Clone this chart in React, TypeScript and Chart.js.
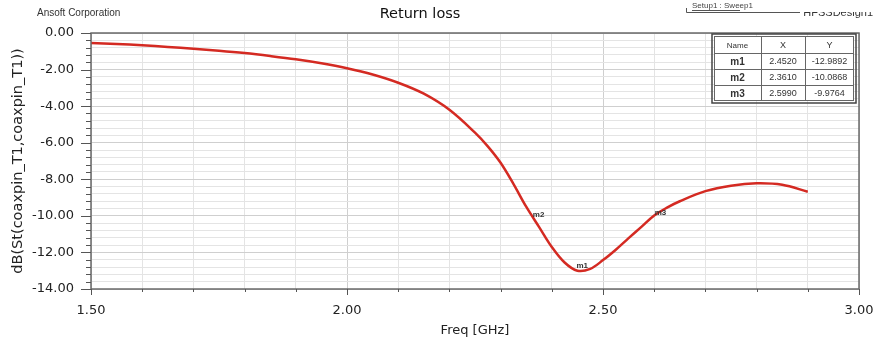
import React, { useEffect, useRef } from "react";
import { Chart, registerables } from "chart.js";

Chart.register(...registerables);

const freqGHz = [1.5, 1.55, 1.6, 1.65, 1.7, 1.75, 1.8, 1.85, 1.9, 1.95, 2.0, 2.05, 2.1, 2.15, 2.2, 2.25, 2.275, 2.3, 2.325, 2.35, 2.375, 2.4, 2.425, 2.45, 2.475, 2.5, 2.525, 2.55, 2.575, 2.6, 2.625, 2.65, 2.7, 2.75, 2.8, 2.85, 2.9];
const returnLossDb = [-0.55, -0.6, -0.67, -0.76, -0.86, -0.97, -1.1, -1.26, -1.44, -1.66, -1.93, -2.27, -2.72, -3.32, -4.2, -5.45, -6.2, -7.1, -8.25, -9.5, -10.6, -11.7, -12.55, -13.0, -12.9, -12.42, -11.85, -11.22, -10.6, -9.98, -9.55, -9.2, -8.65, -8.35, -8.22, -8.3, -8.68];

const markerNames = ["m1", "m2", "m3"];
const markerX = [2.452, 2.361, 2.599];
const markerY = [-12.9892, -10.0868, -9.9764];
const markerXText = ["2.4520", "2.3610", "2.5990"];
const markerYText = ["-12.9892", "-10.0868", "-9.9764"];

const xMin = 1.5, xMax = 3.0, xStep = 0.1;
const yMin = -14, yMax = 0, yStep = 0.4;

const FONT = "Arial, 'Liberation Sans', sans-serif";
const WIDE = "'DejaVu Sans', Arial, sans-serif";

const isMult = (v: number, m: number) => Math.abs(v / m - Math.round(v / m)) < 1e-6;

const decorPlugin = {
  id: "decor",
  afterDraw(chart: any) {
    const ctx = chart.ctx as CanvasRenderingContext2D;
    const xs = chart.scales.x;
    const ys = chart.scales.y;
    const area = chart.chartArea;
    ctx.save();
    // plot border
    ctx.strokeStyle = "#6a6a6a";
    ctx.lineWidth = 1.5;
    ctx.strokeRect(area.left, area.top, area.right - area.left, area.bottom - area.top);
    // tick marks
    ctx.strokeStyle = "#555";
    ctx.lineWidth = 1;
    xs.ticks.forEach((t: any) => {
      const px = Math.round(xs.getPixelForValue(t.value)) + 0.5;
      const len = isMult(t.value, 0.5) ? 6 : 3;
      ctx.beginPath();
      ctx.moveTo(px, area.bottom);
      ctx.lineTo(px, area.bottom + len);
      ctx.stroke();
    });
    ys.ticks.forEach((t: any) => {
      const py = Math.round(ys.getPixelForValue(t.value)) + 0.5;
      const len = isMult(t.value, 2) ? 10 : 5;
      ctx.beginPath();
      ctx.moveTo(area.left - len, py);
      ctx.lineTo(area.left, py);
      ctx.stroke();
    });
    // markers
    ctx.fillStyle = "#333";
    ctx.font = `bold 8px ${FONT}`;
    ctx.textBaseline = "middle";
    ctx.textAlign = "left";
    markerNames.forEach((n, i) => {
      const px = xs.getPixelForValue(markerX[i]);
      const py = ys.getPixelForValue(markerY[i]);
      if (i === 0) ctx.fillText(n, px - 2, py - 5);
      else ctx.fillText(n, px + 1, py - 3);
    });
    // title texts
    ctx.fillStyle = "#111";
    ctx.font = `14.5px ${WIDE}`;
    ctx.textAlign = "center";
    ctx.fillText("Return loss", 420, 14);
    ctx.font = `10px ${FONT}`;
    ctx.textAlign = "left";
    ctx.fillStyle = "#333";
    ctx.fillText("Ansoft Corporation", 37, 13);
    // setup legend
    ctx.font = `8px ${FONT}`;
    ctx.fillStyle = "#444";
    ctx.fillText("Setup1 : Sweep1", 692, 6);
    ctx.strokeStyle = "#555";
    ctx.beginPath();
    ctx.moveTo(692, 10.5);
    ctx.lineTo(740, 10.5);
    ctx.stroke();
    ctx.beginPath();
    ctx.moveTo(686.5, 8);
    ctx.lineTo(686.5, 12.5);
    ctx.lineTo(800, 12.5);
    ctx.stroke();
    // clipped design name
    ctx.save();
    ctx.beginPath();
    ctx.rect(795, 12, 85, 10);
    ctx.clip();
    ctx.font = `11px ${FONT}`;
    ctx.fillStyle = "#333";
    ctx.textAlign = "right";
    ctx.fillText("HFSSDesign1", 873, 13);
    ctx.restore();
    // marker table
    const tx0 = 714, tx1 = 761, tx2 = 805, tx3 = 854;
    const rowsY = [36, 53, 69, 85, 101];
    ctx.fillStyle = "#fff";
    ctx.fillRect(tx0, rowsY[0], tx3 - tx0, rowsY[4] - rowsY[0]);
    ctx.strokeStyle = "#444";
    ctx.lineWidth = 1.5;
    ctx.strokeRect(tx0 - 2, rowsY[0] - 2, tx3 - tx0 + 4, rowsY[4] - rowsY[0] + 4);
    ctx.lineWidth = 1;
    ctx.strokeStyle = "#666";
    ctx.strokeRect(tx0 + 0.5, rowsY[0] + 0.5, tx3 - tx0 - 1, rowsY[4] - rowsY[0] - 1);
    [tx1, tx2].forEach((x) => {
      ctx.beginPath();
      ctx.moveTo(x + 0.5, rowsY[0]);
      ctx.lineTo(x + 0.5, rowsY[4]);
      ctx.stroke();
    });
    rowsY.slice(1, 4).forEach((y) => {
      ctx.beginPath();
      ctx.moveTo(tx0, y + 0.5);
      ctx.lineTo(tx3, y + 0.5);
      ctx.stroke();
    });
    ctx.textAlign = "center";
    ctx.textBaseline = "middle";
    ctx.fillStyle = "#333";
    const cx = [(tx0 + tx1) / 2, (tx1 + tx2) / 2, (tx2 + tx3) / 2];
    const headMid = (rowsY[0] + rowsY[1]) / 2 + 1;
    ctx.font = `8px ${FONT}`;
    ctx.fillText("Name", cx[0], headMid);
    ctx.font = `9px ${FONT}`;
    ctx.fillText("X", cx[1], headMid);
    ctx.fillText("Y", cx[2], headMid);
    markerNames.forEach((n, i) => {
      const my = (rowsY[i + 1] + rowsY[i + 2]) / 2 + 1;
      ctx.font = `bold 10px ${FONT}`;
      ctx.fillText(n, cx[0], my);
      ctx.font = `9px ${FONT}`;
      ctx.fillText(markerXText[i], cx[1], my);
      ctx.fillText(markerYText[i], cx[2], my);
    });
    ctx.restore();
  },
};

export default function App() {
  const ref = useRef<HTMLCanvasElement | null>(null);
  useEffect(() => {
    document.body.style.margin = "0";
    const canvas = ref.current!;
    const chart = new Chart(canvas, {
      type: "line",
      data: {
        datasets: [
          {
            data: freqGHz.map((f, i) => ({ x: f, y: returnLossDb[i] })),
            borderColor: "#d42a22",
            borderWidth: 2.5,
            pointRadius: 0,
            tension: 0.35,
            fill: false,
          },
        ],
      },
      options: {
        animation: false,
        responsive: false,
        devicePixelRatio: 1,
        layout: { padding: { top: 33, right: 21, left: 0, bottom: 0 } },
        plugins: { legend: { display: false }, tooltip: { enabled: false }, title: { display: false } },
        scales: {
          x: {
            type: "linear",
            min: xMin,
            max: xMax,
            afterFit: (s: any) => { s.height = 58; s.paddingLeft = 0; s.paddingRight = 0; },
            ticks: {
              stepSize: xStep,
              autoSkip: false,
              maxRotation: 0,
              padding: 14,
              color: "#222",
              font: { family: WIDE, size: 13 },
              callback: (v: any) => (isMult(Number(v), 0.5) ? Number(v).toFixed(2) : ""),
            },
            grid: {
              drawTicks: false,
              color: (c: any) => (isMult(c.tick.value, 0.5) ? "#cfcfcf" : "#e4e4e4"),
              lineWidth: 1,
            },
            border: { display: false },
            title: {
              display: true,
              text: "Freq [GHz]",
              color: "#222",
              font: { family: WIDE, size: 13 },
              padding: { top: 0, bottom: 9 },
            },
          },
          y: {
            type: "linear",
            min: yMin,
            max: yMax,
            afterFit: (s: any) => { s.width = 91; s.paddingTop = 0; s.paddingBottom = 0; },
            ticks: {
              stepSize: yStep,
              autoSkip: false,
              padding: 17,
              color: "#222",
              font: { family: WIDE, size: 13 },
              callback: (v: any) => (isMult(Number(v), 2) ? Number(v).toFixed(2) : ""),
            },
            grid: {
              drawTicks: false,
              color: (c: any) => (isMult(c.tick.value, 2) ? "#cfcfcf" : "#e4e4e4"),
              lineWidth: 1,
            },
            border: { display: false },
            title: {
              display: true,
              text: "dB(St(coaxpin_T1,coaxpin_T1))",
              color: "#222",
              font: { family: WIDE, size: 14.5 },
              padding: { top: 10, bottom: 0 },
            },
          },
        },
      },
      plugins: [decorPlugin],
    } as any);
    return () => chart.destroy();
  }, []);
  return <canvas ref={ref} width={880} height={347} style={{ display: "block", width: 880, height: 347 }} />;
}
